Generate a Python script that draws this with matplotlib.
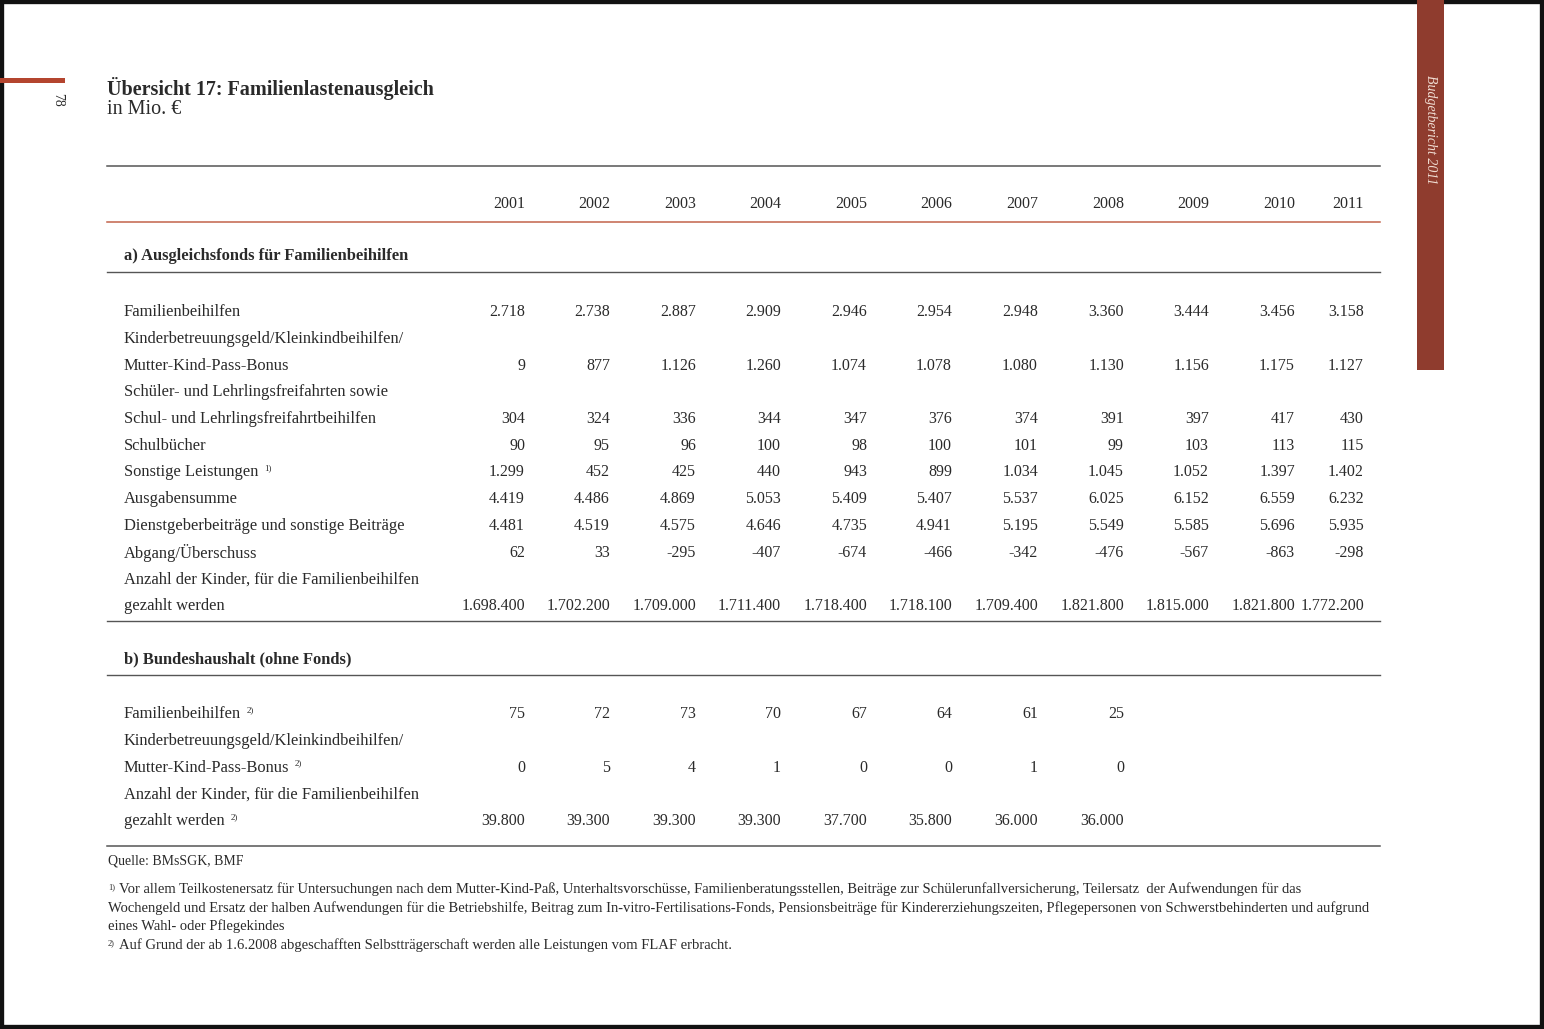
import matplotlib.pyplot as plt
import numpy as np

plt.rcParams['font.family'] = ['Liberation Serif', 'DejaVu Serif']

years = [2001, 2002, 2003, 2004, 2005, 2006, 2007, 2008, 2009, 2010, 2011]

# a) Ausgleichsfonds für Familienbeihilfen (Mio. €, Kinder in Anzahl)
a_familienbeihilfen = [2718, 2738, 2887, 2909, 2946, 2954, 2948, 3360, 3444, 3456, 3158]
a_kinderbetreuung = [9, 877, 1126, 1260, 1074, 1078, 1080, 1130, 1156, 1175, 1127]
a_freifahrten = [304, 324, 336, 344, 347, 376, 374, 391, 397, 417, 430]
a_schulbuecher = [90, 95, 96, 100, 98, 100, 101, 99, 103, 113, 115]
a_sonstige = [1299, 452, 425, 440, 943, 899, 1034, 1045, 1052, 1397, 1402]
a_ausgabensumme = [4419, 4486, 4869, 5053, 5409, 5407, 5537, 6025, 6152, 6559, 6232]
a_beitraege = [4481, 4519, 4575, 4646, 4735, 4941, 5195, 5549, 5585, 5696, 5935]
a_abgang = [62, 33, -295, -407, -674, -466, -342, -476, -567, -863, -298]
a_kinder = [1698400, 1702200, 1709000, 1711400, 1718400, 1718100, 1709400,
            1821800, 1815000, 1821800, 1772200]

# b) Bundeshaushalt (ohne Fonds), ab 2009 leer
b_familienbeihilfen = [75, 72, 73, 70, 67, 64, 61, 25]
b_kinderbetreuung = [0, 5, 4, 1, 0, 0, 1, 0]
b_kinder = [39800, 39300, 39300, 39300, 37700, 35800, 36000, 36000]

rows_a = [
    ("Familienbeihilfen", "", a_familienbeihilfen),
    ("Kinderbetreuungsgeld/Kleinkindbeihilfen/", "", None),
    ("Mutter-Kind-Pass-Bonus", "", a_kinderbetreuung),
    ("Schüler- und Lehrlingsfreifahrten sowie", "", None),
    ("Schul- und Lehrlingsfreifahrtbeihilfen", "", a_freifahrten),
    ("Schulbücher", "", a_schulbuecher),
    ("Sonstige Leistungen", "1)", a_sonstige),
    ("Ausgabensumme", "", a_ausgabensumme),
    ("Dienstgeberbeiträge und sonstige Beiträge", "", a_beitraege),
    ("Abgang/Überschuss", "", a_abgang),
    ("Anzahl der Kinder, für die Familienbeihilfen", "", None),
    ("gezahlt werden", "", a_kinder),
]
rows_b = [
    ("Familienbeihilfen", "2)", b_familienbeihilfen),
    ("Kinderbetreuungsgeld/Kleinkindbeihilfen/", "", None),
    ("Mutter-Kind-Pass-Bonus", "2)", b_kinderbetreuung),
    ("Anzahl der Kinder, für die Familienbeihilfen", "", None),
    ("gezahlt werden", "2)", b_kinder),
]

footnotes = [
    ("1)", "Vor allem Teilkostenersatz für Untersuchungen nach dem Mutter-Kind-Paß, Unterhaltsvorschüsse, "
           "Familienberatungsstellen, Beiträge zur Schülerunfallversicherung, Teilersatz  der Aufwendungen für das"),
    ("", "Wochengeld und Ersatz der halben Aufwendungen für die Betriebshilfe, Beitrag zum In-vitro-Fertilisations-Fonds, "
         "Pensionsbeiträge für Kindererziehungszeiten, Pflegepersonen von Schwerstbehinderten und aufgrund"),
    ("", "eines Wahl- oder Pflegekindes"),
    ("2)", "Auf Grund der ab 1.6.2008 abgeschafften Selbstträgerschaft werden alle Leistungen vom FLAF erbracht."),
]


def fmt(v):
    return f"{v:,}".replace(",", ".")


W, H = 1544, 1029
fig = plt.figure(figsize=(W / 100, H / 100), dpi=100)
ax = fig.add_axes([0, 0, 1, 1])
ax.set_xlim(0, W)
ax.set_ylim(H, 0)
ax.axis('off')

txt = '#2a2a2a'
rule = '#555555'
red = '#c2634a'

# page frame of the scan
ax.add_patch(plt.Rectangle((0, 0), W, H, fill=False, ec='#111111', lw=6))
ax.add_patch(plt.Rectangle((0, 78), 65, 5, color='#b4452f', lw=0))
ax.text(58, 100, "78", rotation=-90, fontsize=10, color=txt, ha='center', va='center')
ax.add_patch(plt.Rectangle((1417, 0), 27, 370, color='#8f3c2e', lw=0))
ax.text(1431, 130, "Budgetbericht 2011", rotation=-90, fontsize=10, style='italic',
        color='#f0dcd2', ha='center', va='center')

ax.text(107, 89, "Übersicht 17: Familienlastenausgleich", fontsize=14.5, fontweight='bold',
        color=txt, va='center')
ax.text(107, 110, "in Mio. €", fontsize=14.5, color=txt, va='center')

x0, x1 = 107, 1380
col_right = [525, 610, 696, 781, 867, 952, 1038, 1124, 1209, 1295, 1364]
fs = 11.5
fs_lab = 11.9

ax.plot([x0, x1], [166, 166], color=rule, lw=1.1)
for yr, xr in zip(years, col_right):
    ax.text(xr, 204, str(yr), fontsize=fs, ha='right', va='center', color=txt)
ax.plot([x0, x1], [222, 222], color=red, lw=1.1)

ax.text(124, 256, "a) Ausgleichsfonds für Familienbeihilfen", fontsize=fs_lab, fontweight='bold',
        color=txt, va='center')
ax.plot([x0, x1], [272, 272], color=rule, lw=1)


def draw_rows(rows, y_start, step):
    y = y_start
    for label, sup, vals in rows:
        t = ax.text(124, y, label, fontsize=fs_lab, color=txt, va='center')
        if sup:
            ax.annotate(sup, xy=(1, 0.75), xycoords=t, xytext=(4, 0), textcoords='offset points',
                        fontsize=6.5, color=txt, va='center')
        if vals is not None:
            for v, xr in zip(vals, col_right):
                ax.text(xr, y, fmt(v), fontsize=fs, ha='right', va='center', color=txt)
        y += step


draw_rows(rows_a, 312, 26.75)
ax.plot([x0, x1], [621, 621], color=rule, lw=1)

ax.text(124, 659, "b) Bundeshaushalt (ohne Fonds)", fontsize=fs_lab, fontweight='bold',
        color=txt, va='center')
ax.plot([x0, x1], [675, 675], color=rule, lw=1)
draw_rows(rows_b, 714, 26.75)
ax.plot([x0, x1], [846, 846], color=rule, lw=1.1)

ax.text(108, 861, "Quelle: BMsSGK, BMF", fontsize=10, color=txt, va='center')
fy = 889
for mark, line in footnotes:
    if mark:
        ax.text(108, fy - 2, mark, fontsize=6, color=txt, va='center')
        ax.text(119, fy, line, fontsize=10.5, color=txt, va='center')
    else:
        ax.text(108, fy, line, fontsize=10.5, color=txt, va='center')
    fy += 18.7

fig.savefig("out.png", dpi=100)
